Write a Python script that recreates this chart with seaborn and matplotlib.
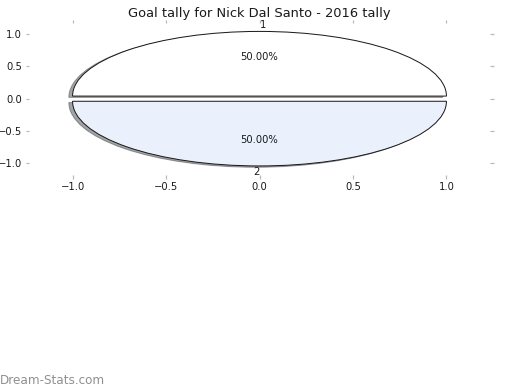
import matplotlib
matplotlib.use('Agg')
import matplotlib.pyplot as plt
import seaborn as sns

# data
etiketler = ['1', '2']
degerler = [1, 1]
renkler = ['#ffffff', '#eaf1fd']
patlatma = [0.04, 0.04]
baslik = 'Goal tally for Nick Dal Santo - 2016 tally'

sns.set_theme(style='white', rc={
    'xtick.bottom': True, 'ytick.left': True,
    'xtick.top': True, 'ytick.right': True,
    'xtick.color': '#b8b8b8', 'ytick.color': '#b8b8b8',
    'xtick.labelcolor': '#1a1a1a', 'ytick.labelcolor': '#1a1a1a',
    'xtick.major.size': 3.5, 'ytick.major.size': 3.5,
    'xtick.labelsize': 10, 'ytick.labelsize': 10,
})
plt.rcParams['font.family'] = ['DejaVu Sans']

fig = plt.figure(figsize=(520 / 72, 390 / 72), dpi=72)
ax = fig.add_axes([29 / 520, 1 - 175 / 390, 461 / 520, 152 / 390])

wedges, texts, autotexts = ax.pie(
    degerler, labels=etiketler, colors=renkler, explode=patlatma,
    autopct='%1.2f%%', shadow=True, startangle=0, frame=True,
    wedgeprops={'edgecolor': '#1a1a1a', 'linewidth': 1.0},
    textprops={'fontsize': 10, 'color': '#1a1a1a'})
# etiketler: ustteki sola, alttaki saga yaslanmis
texts[0].set_ha('left')
texts[1].set_ha('right')

ax.set_aspect('auto')
ax.set_xlim(-1.233, 1.233)
ax.set_ylim(-1.18, 1.17)
ax.set_xticks([-1.0, -0.5, 0.0, 0.5, 1.0])
ax.set_yticks([-1.0, -0.5, 0.0, 0.5, 1.0])
ax.tick_params(labeltop=False, labelright=False, width=1.2)
for s in ax.spines.values():
    s.set_visible(False)
ax.set_title(baslik, fontsize=13, color='#1a1a1a', pad=6)

fig.text(0.0, 0.025, 'Dream-Stats.com', fontsize=12, color='#909090',
         ha='left', va='center')

fig.savefig('out.png', dpi=72)
